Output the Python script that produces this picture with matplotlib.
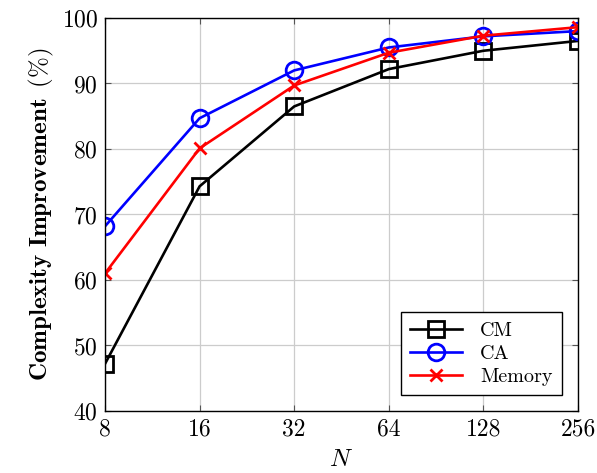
import matplotlib
matplotlib.use("Agg")
import matplotlib.pyplot as plt

plt.rcParams['font.family'] = 'serif'
plt.rcParams['font.serif'] = ['cmr10', 'DejaVu Serif']
plt.rcParams['mathtext.fontset'] = 'cm'
plt.rcParams['axes.formatter.use_mathtext'] = True

n_vals = [8, 16, 32, 64, 128, 256]
tick_labels = ['8', '16', '32', '64', '128', '256']
cm_vals = [47.2, 74.3, 86.5, 92.2, 95.0, 96.5]
ca_vals = [68.2, 84.7, 92.0, 95.5, 97.2, 98.0]
mem_vals = [61.0, 80.1, 89.7, 94.7, 97.3, 98.6]

fig = plt.figure(figsize=(5.97, 4.73), dpi=100)
ax = fig.add_axes([105/597, 62/473, 473/597, 393/473])

ax.plot(n_vals, cm_vals, color='black', marker='s', markersize=12, markerfacecolor='none',
        markeredgewidth=2.0, linewidth=1.9, label='CM')
ax.plot(n_vals, ca_vals, color='blue', marker='o', markersize=12, markerfacecolor='none',
        markeredgewidth=2.0, linewidth=1.9, label='CA')
ax.plot(n_vals, mem_vals, color='red', marker='x', markersize=9,
        markeredgewidth=2.0, linewidth=1.9, label='Memory')

ax.set_xscale('log', base=2)
ax.set_xlim(8, 256)
ax.set_ylim(40, 100)
ax.set_xticks(n_vals)
ax.set_xticklabels(tick_labels)
ax.minorticks_off()
ax.set_yticks([40, 50, 60, 70, 80, 90, 100])
ax.grid(True, color='#cccccc', linewidth=0.9)
ax.tick_params(direction='in', labelsize=17, length=4, color='#555555', right=True, top=True, pad=5)
for s in ax.spines.values():
    s.set_linewidth(1.0)

ax.set_xlabel('$N$', fontsize=18, labelpad=6)
ax.set_ylabel(r'$\mathbf{Complexity\ Improvement}\ \,(\%)$', fontsize=18, labelpad=4)

leg = ax.legend(loc='lower right', fontsize=14.5, fancybox=False, edgecolor='black',
                framealpha=1, handlelength=2.6, borderaxespad=0.8, borderpad=0.45,
                labelspacing=0.25, handletextpad=0.9)
leg.get_frame().set_linewidth(1.0)

fig.savefig('out.png', dpi=100)
